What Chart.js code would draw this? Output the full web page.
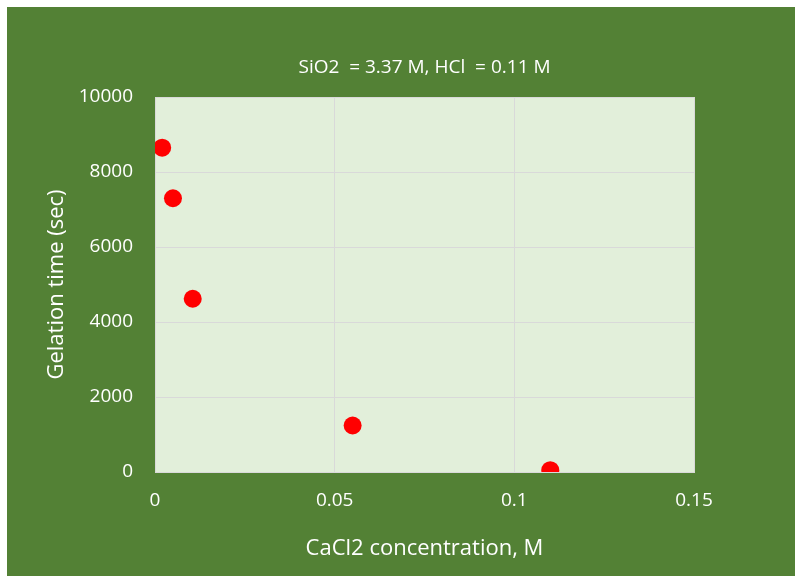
<!DOCTYPE html>
<html>
<head>
<meta charset="utf-8">
<script src="https://cdn.jsdelivr.net/npm/chart.js@4"></script>
<style>
    html, body { margin: 0; padding: 0; background: #ffffff; }
    #wrap { position: absolute; left: 7px; top: 7px; width: 788px; height: 569px; background: #538135; }
</style>
</head>
<body>
<div id="wrap"><canvas id="gel"></canvas></div>
<script>
(function() {
    var concentration = [0.002, 0.005, 0.0105, 0.055, 0.11];
    var gelationTime = [8650, 7300, 4620, 1240, 50];
    var xTicks = [0, 0.05, 0.1, 0.15];
    var yTicks = [0, 2000, 4000, 6000, 8000, 10000];
    var chartTitle = 'SiO2  = 3.37 M, HCl  = 0.11 M';

    var font = "'Open Sans', 'Liberation Sans', sans-serif";

    // light green plot area behind the grid
    var plotFill = {
        id: 'plotFill',
        beforeDraw: function(chart) {
            var a = chart.chartArea;
            var ctx = chart.ctx;
            ctx.save();
            ctx.fillStyle = '#e2efda';
            ctx.fillRect(a.left, a.top, a.right - a.left, a.bottom - a.top);
            ctx.restore();
        }
    };

    // title centred over the plot area, like the spreadsheet does
    var plotTitle = {
        id: 'plotTitle',
        afterDraw: function(chart) {
            var a = chart.chartArea;
            var ctx = chart.ctx;
            ctx.save();
            ctx.fillStyle = '#ffffff';
            ctx.font = '19px ' + font;
            ctx.textAlign = 'center';
            ctx.textBaseline = 'middle';
            ctx.fillText(chartTitle, (a.left + a.right) / 2, 61);
            ctx.restore();
        }
    };

    var points = concentration.map(function(x, i) {
        return { x: x, y: gelationTime[i] };
    });

    new Chart(document.getElementById('gel').getContext('2d'), {
        type: 'scatter',
        data: {
            datasets: [{
                data: points,
                backgroundColor: '#ff0000',
                borderWidth: 0,
                pointRadius: 9,
                pointHoverRadius: 9
            }]
        },
        options: {
            responsive: true,
            maintainAspectRatio: false,
            animation: false,
            layout: { padding: { left: 0, right: 101, top: 90, bottom: 0 } },
            plugins: {
                legend: { display: false },
                tooltip: { enabled: false },
                title: { display: false }
            },
            scales: {
                x: {
                    type: 'linear',
                    min: 0,
                    max: 0.15,
                    afterBuildTicks: function(scale) {
                        scale.ticks = xTicks.map(function(v) { return { value: v }; });
                    },
                    afterFit: function(scale) { scale.height = 104; },
                    ticks: {
                        color: '#ffffff',
                        font: { family: font, size: 19 },
                        padding: 17,
                        callback: function(v) { return String(v); }
                    },
                    grid: { color: '#d9d9d9', drawTicks: false },
                    border: { color: '#d9d9d9' },
                    title: {
                        display: true,
                        text: 'CaCl2 concentration, M',
                        color: '#ffffff',
                        font: { family: font, size: 22 },
                        padding: { top: 0, bottom: 14 }
                    }
                },
                y: {
                    min: 0,
                    max: 10000,
                    afterBuildTicks: function(scale) {
                        scale.ticks = yTicks.map(function(v) { return { value: v }; });
                    },
                    afterFit: function(scale) { scale.width = 148; },
                    ticks: {
                        color: '#ffffff',
                        font: { family: font, size: 19 },
                        padding: 22,
                        callback: function(v) { return String(v); }
                    },
                    grid: { color: '#d9d9d9', drawTicks: false },
                    border: { color: '#d9d9d9' },
                    title: {
                        display: true,
                        text: 'Gelation time (sec)',
                        color: '#ffffff',
                        font: { family: font, size: 22 },
                        padding: { top: 37, bottom: 0 }
                    }
                }
            }
        },
        plugins: [plotFill, plotTitle]
    });
})();
</script>
</body>
</html>
